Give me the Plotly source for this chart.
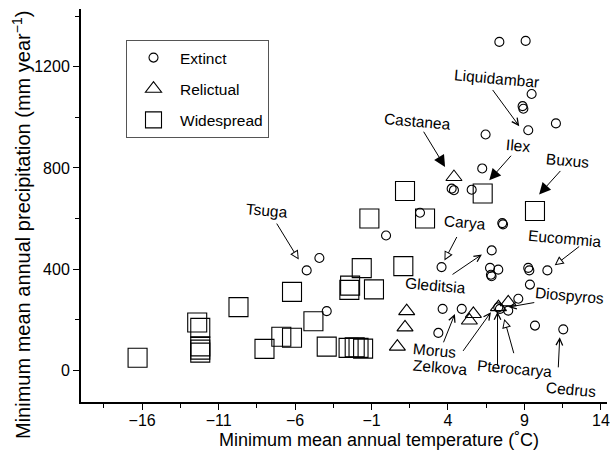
import math
import plotly.graph_objects as go

# ---------------- data ----------------
extinct_temp = [7.36, 9.08, 9.47, 8.88, 8.93, 9.25, 11.06, 6.46, 6.24, 4.24, 4.39, 5.55,
                2.17, -0.05, 7.55, 7.60, 6.86, 3.58, 6.75, 7.29, 6.81, 6.85, 9.25, 9.32,
                10.5, 9.36, 8.60, 7.94, 7.29, 7.40, 9.69, 11.54, 3.65, 4.90, 3.37, -3.93,
                -4.41, -5.24]
extinct_precip = [1298, 1302, 1092, 1044, 1034, 949, 976, 932, 798, 718, 712, 714,
                  623, 533, 582, 577, 474, 408, 405, 398, 378, 372, 405, 395,
                  395, 339, 283, 236, 249, 243, 177, 162, 243, 243, 148, 234,
                  444, 395]

relictual_temp = [4.39, 1.30, 1.19, 0.69, 5.66, 5.40, 7.94, 7.30]
relictual_precip = [764, 234, 170, 94, 223, 197, 269, 250]

widespread_temp = [-16.3, -12.4, -12.2, -12.2, -12.2, -12.2, -9.7, -8.0, -6.9, -6.2,
                   -6.2, -4.8, -3.93, -2.5, -2.1, -1.85, -1.55, -2.4, -2.45, -1.64,
                   -0.84, -1.14, 1.19, 1.08, 2.5, 6.27, 9.69]
widespread_precip = [50, 189, 168, 95, 82, 70, 250, 85, 133, 129,
                     310, 194, 94, 89, 91, 89, 86, 335, 318, 404,
                     320, 600, 709, 412, 600, 699, 630]

series_names = ["Extinct", "Relictual", "Widespread"]

# genus labels (text position in data units)
genus_names = ["Liquidambar", "Castanea", "Ilex", "Buxus", "Tsuga", "Carya", "Eucommia",
               "Gleditsia", "Diospyros", "Morus", "Zelkova", "Pterocarya", "Cedrus"]
genus_label_x = [7.16, 2.02, 8.55, 11.80, -7.85, 5.12, 11.65, 3.17, 11.92, 3.11, 3.54, 8.33, 12.03]
genus_label_y = [1155, 982, 887, 830, 632, 586, 520, 334, 296, 78, 12, 6, -74]

# arrows: tail -> head (data units) and head style
arrow_tail_x = [6.85, 2.35, 8.21, 11.44, -7.26, 4.63, 12.68, 4.20, 9.74, 3.67, 4.92, 7.24, 8.33, 11.21]
arrow_tail_y = [1114, 949, 854, 794, 586, 533, 494, 375, 269, 105, 71, 12, 62, 6]
arrow_head_x = [8.66, 3.81, 6.70, 9.96, -5.76, 3.77, 10.98, 6.22, 7.95, 4.45, 6.81, 7.24, 7.68, 11.31]
arrow_head_y = [965, 804, 751, 695, 438, 434, 415, 458, 250, 223, 230, 232, 203, 131]
arrow_style = ["line", "filled", "filled", "filled", "open", "open", "open",
               "line", "line", "line", "line", "line", "open", "line"]

x_title = "Minimum mean annual temperature (˚C)"
y_title = "Minimum mean annual precipitation (mm year<sup>−1</sup>)"

# ---------------- layout constants ----------------
W, H = 610, 456
ML, MR, MT, MB = 81, 3, 9, 54
XR = [-20, 14.4]
YR = [-125, 1428]
FONT = "Liberation Sans, Arial, Helvetica, sans-serif"

pw = W - ML - MR
ph = H - MT - MB
ppx = pw / (XR[1] - XR[0])
ppy = ph / (YR[1] - YR[0])

fig = go.Figure()
styles = [
    dict(symbol="circle-open", size=9),
    dict(symbol="triangle-up-open", size=14),
    dict(symbol="square-open", size=19),
]
for name, xs, ys, st in zip(series_names,
                            [extinct_temp, relictual_temp, widespread_temp],
                            [extinct_precip, relictual_precip, widespread_precip],
                            styles):
    fig.add_trace(go.Scatter(
        x=xs, y=ys, mode="markers", name=name, legendgroup=name,
        marker=dict(symbol=st["symbol"], size=st["size"], color="black",
                    line=dict(color="black", width=1.1)),
    ))

annotations = []
for name, lx, ly in zip(genus_names, genus_label_x, genus_label_y):
    annotations.append(dict(x=lx, y=ly, xref="x", yref="y", text=name, showarrow=False,
                            textangle=5, font=dict(family=FONT, size=15.5, color="black")))

for tx, ty, hx, hy, st in zip(arrow_tail_x, arrow_tail_y, arrow_head_x, arrow_head_y, arrow_style):
    base = dict(x=hx, y=hy, ax=tx, ay=ty, xref="x", yref="y", axref="x", ayref="y",
                text="", showarrow=True, arrowcolor="black", arrowwidth=1)
    if st == "filled":
        base.update(arrowhead=2, arrowsize=2.3)
        annotations.append(base)
    elif st == "line":
        base.update(arrowhead=5, arrowsize=1.3)
        annotations.append(base)
    else:
        base.update(arrowhead=2, arrowsize=1.8)
        annotations.append(base)
        dxp = (tx - hx) * ppx
        dyp = -(ty - hy) * ppy
        n = math.hypot(dxp, dyp)
        ux, uy = dxp / n, dyp / n
        annotations.append(dict(x=hx, y=hy, xref="x", yref="y", axref="pixel", ayref="pixel",
                                ax=ux * 6.5, ay=uy * 6.5, text="", showarrow=True,
                                arrowcolor="white", arrowwidth=1, arrowhead=2,
                                arrowsize=1.16, standoff=2.2))

# axis titles placed as paper annotations
annotations.append(dict(x=(378.5 - ML) / pw, y=-(440 - (H - MB)) / ph, xref="paper", yref="paper",
                        text=x_title, showarrow=False, xanchor="center", yanchor="middle",
                        font=dict(family=FONT, size=18, color="black")))
annotations.append(dict(x=(21 - ML) / pw, y=((H - MB) - 225) / ph, xref="paper", yref="paper",
                        text=y_title, showarrow=False, textangle=-90,
                        xanchor="center", yanchor="middle",
                        font=dict(family=FONT, size=20, color="black")))

axis_common = dict(showgrid=False, zeroline=False, showline=True, linecolor="black",
                   linewidth=2, ticks="outside", ticklen=6, tickwidth=1.2, tickcolor="black",
                   tickfont=dict(family=FONT, size=16, color="black"), mirror=False,
                   automargin=False)

fig.update_layout(
    width=W, height=H,
    margin=dict(l=ML, r=MR, t=MT, b=MB, pad=0, autoexpand=False),
    paper_bgcolor="white", plot_bgcolor="white",
    font=dict(family=FONT, color="black"),
    xaxis=dict(range=XR, tick0=-16, dtick=5, ticklabelstandoff=-3,
               minor=dict(ticks="outside", ticklen=4, tick0=-16, dtick=2.5, tickcolor="black", tickwidth=1),
               **axis_common),
    yaxis=dict(range=YR, tick0=0, dtick=400,
               minor=dict(ticks="outside", ticklen=4, tick0=0, dtick=200, tickcolor="black", tickwidth=1),
               **axis_common),
    legend=dict(x=(126 - ML) / pw, y=((H - MB) - 40) / ph, xanchor="left", yanchor="top",
                bgcolor="white", bordercolor="#555555", borderwidth=1,
                font=dict(family=FONT, size=15.5, color="black"),
                itemwidth=43, tracegroupgap=8, traceorder="grouped"),
    annotations=annotations,
    showlegend=True,
)

fig.write_html("out.html", config={"displayModeBar": False},
               post_script="document.body.style.margin='0px';")
